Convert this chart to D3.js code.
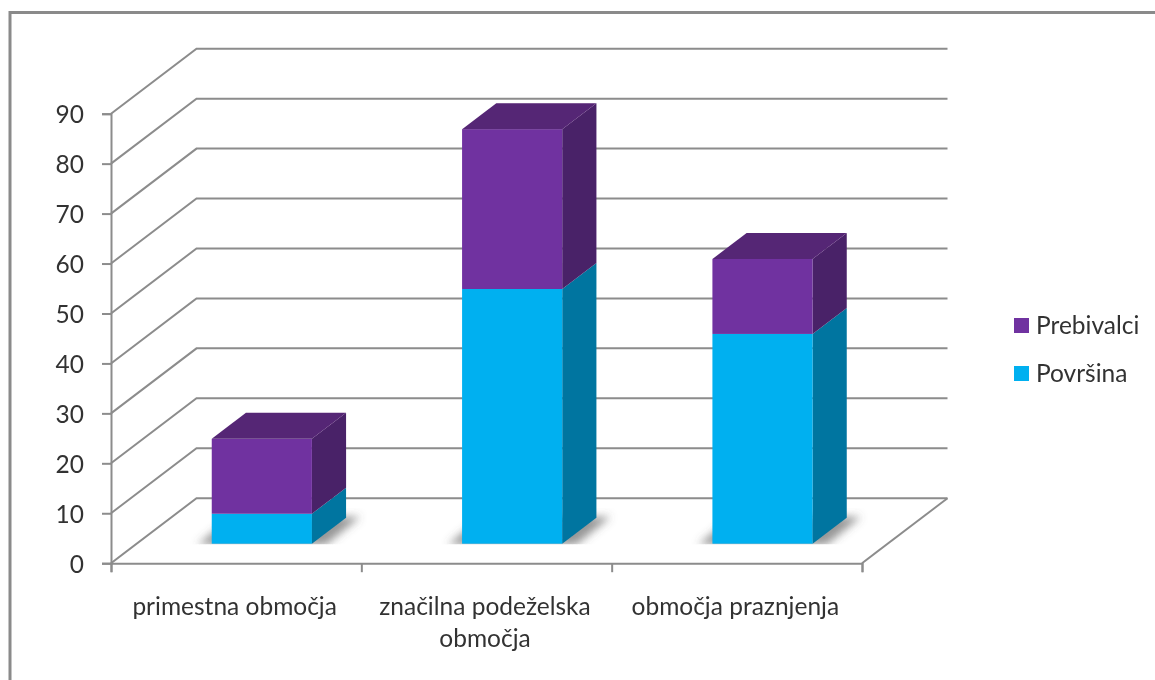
<!DOCTYPE html>
<html>
<head>
<meta charset="utf-8">
<script src="https://cdn.jsdelivr.net/npm/d3@7"></script>
<style>
  html, body { margin: 0; padding: 0; background: #fff; }
  svg { display: block; }
  text { font-family: Lato, "Open Sans", sans-serif; fill: #333; }
</style>
</head>
<body>
<div id="chart"></div>
<script>
const categories = ["primestna območja", "značilna podeželska območja", "območja praznjenja"];
const categoryLines = [["primestna območja"], ["značilna podeželska", "območja"], ["območja praznjenja"]];
const povrsina = [6, 51, 42];
const prebivalci = [15, 32, 15];
const seriesNames = ["Površina", "Prebivalci"];
const yTicks = [0, 10, 20, 30, 40, 50, 60, 70, 80, 90];

const colors = {
  Površina: { front: "#00b0f0", side: "#0075a0", top: "#0085b5" },
  Prebivalci: { front: "#7030a0", side: "#4a2068", top: "#552575" },
};

const width = 1155, height = 680;
const plot = { left: 111, right: 862, top: 113.7, bottom: 563.2 };
const wall = { dx: 85.5, dy: -65 }; // front plane -> back wall of the 3d box
const labelSize = "24.5px";

const svg = d3.select("#chart").append("svg").attr("width", width).attr("height", height);

const defs = svg.append("defs");
defs.append("filter").attr("id", "soft").append("feGaussianBlur").attr("stdDeviation", 0.45);
const shadowBlur = defs.append("filter").attr("id", "shadowBlur")
  .attr("x", "-20%").attr("y", "-30%").attr("width", "140%").attr("height", "160%");
shadowBlur.append("feGaussianBlur").attr("stdDeviation", 4);

// outer frame, runs off the right and bottom of the picture
svg.append("rect")
  .attr("x", 10).attr("y", 12.5)
  .attr("width", width + 20).attr("height", height + 20)
  .attr("fill", "#fff").attr("stroke", "#8a8a8a").attr("stroke-width", 3);

const g = svg.append("g").attr("filter", "url(#soft)");

const y = d3.scaleLinear().domain([0, 90]).range([plot.bottom, plot.top]);
const x = d3.scaleBand().domain(categories).range([plot.left, plot.right]).paddingInner(0.6).paddingOuter(0.3);
const xTicks = d3.scaleLinear().domain([0, 3]).range([plot.left, plot.right]);

// project a point of the front plane back by d (0 front, 1 back wall)
const project = (px, py, d) => [px + wall.dx * d, py + wall.dy * d];
const poly = (pts) => pts.map((p) => p.join(",")).join(" ");

// gridlines on side and back walls
g.selectAll("polyline.grid")
  .data(yTicks)
  .join("polyline")
  .attr("class", "grid")
  .attr("fill", "none")
  .attr("stroke", "#8c8c8c")
  .attr("stroke-width", 2)
  .attr("points", (d) => {
    const a = [plot.left, y(d)];
    const b = project(plot.left, y(d), 1);
    const c = project(plot.right, y(d), 1);
    return poly([a, b, c]);
  });

// floor right edge
g.append("line")
  .attr("x1", plot.right).attr("y1", y(0))
  .attr("x2", project(plot.right, y(0), 1)[0]).attr("y2", project(plot.right, y(0), 1)[1])
  .attr("stroke", "#8c8c8c").attr("stroke-width", 2);

// y axis
const yAxis = g.append("g")
  .attr("transform", `translate(${plot.left},0)`)
  .call(d3.axisLeft(y).tickValues(yTicks).tickSize(9).tickPadding(18));
yAxis.selectAll("path, line").attr("stroke", "#8c8c8c").attr("stroke-width", 2);
yAxis.selectAll("text").style("font-size", labelSize).attr("dy", "0.36em");

// x axis, ticks sit between the categories
const xAxis = g.append("g")
  .attr("transform", `translate(0,${plot.bottom})`)
  .call(d3.axisBottom(xTicks).tickValues([0, 1, 2, 3]).tickSize(9).tickFormat(""));
xAxis.selectAll("path, line").attr("stroke", "#8c8c8c").attr("stroke-width", 2);

g.selectAll("text.cat")
  .data(categoryLines)
  .join("text")
  .attr("class", "cat")
  .attr("text-anchor", "middle")
  .style("font-size", labelSize)
  .attr("y", 615)
  .each(function (lines, i) {
    d3.select(this).selectAll("tspan")
      .data(lines)
      .join("tspan")
      .attr("x", x(categories[i]) + x.bandwidth() / 2 - 1.5)
      .attr("dy", (d, k) => (k === 0 ? 0 : 32))
      .text((d) => d);
  });

// bars stand in the middle of the box depth
const barFront = 0.3, barBack = 0.7;

const rows = categories.map((c, i) => ({ category: c, Površina: povrsina[i], Prebivalci: prebivalci[i] }));
const stacked = d3.stack().keys(seriesNames)(rows);

const corner = (c, v, side, d) => project(x(c) + (side ? x.bandwidth() : 0), y(v), d);

// floor shadows, cut off along the front edge of the bars
defs.append("clipPath").attr("id", "floorClip")
  .append("rect")
  .attr("x", 0).attr("y", 0)
  .attr("width", width)
  .attr("height", project(0, y(0), barFront)[1] + 0.5);

g.append("g").attr("clip-path", "url(#floorClip)")
  .selectAll("polygon.shadow")
  .data(categories)
  .join("polygon")
  .attr("class", "shadow")
  .attr("fill", "#555")
  .attr("fill-opacity", 0.62)
  .attr("filter", "url(#shadowBlur)")
  .attr("points", (c) => {
    const s = x.bandwidth() * 0.14;
    const a = corner(c, 0, 0, barFront);
    const b = corner(c, 0, 1, barFront);
    const e = corner(c, 0, 1, barBack);
    const f = corner(c, 0, 0, barBack);
    return poly([[a[0] - s, a[1] + 1], [b[0] + s, b[1] + 1], [e[0] + s, e[1] - 1], [f[0] - s, f[1] - 1]]);
  });

stacked.forEach((layer, li) => {
  const col = colors[layer.key];
  const series = g.append("g").attr("class", "series");

  layer.forEach((seg, i) => {
    const c = categories[i];
    // side face
    series.append("polygon")
      .attr("fill", col.side)
      .attr("points", poly([
        corner(c, seg[0], 1, barFront),
        corner(c, seg[1], 1, barFront),
        corner(c, seg[1], 1, barBack),
        corner(c, seg[0], 1, barBack),
      ]));
    // front face
    series.append("rect")
      .attr("fill", col.front)
      .attr("x", corner(c, seg[1], 0, barFront)[0])
      .attr("y", corner(c, seg[1], 0, barFront)[1])
      .attr("width", x.bandwidth())
      .attr("height", y(seg[0]) - y(seg[1]));
    // only the last series shows a top
    if (li === stacked.length - 1) {
      series.append("polygon")
        .attr("fill", col.top)
        .attr("points", poly([
          corner(c, seg[1], 0, barFront),
          corner(c, seg[1], 1, barFront),
          corner(c, seg[1], 1, barBack),
          corner(c, seg[1], 0, barBack),
        ]));
    }
  });
});

// legend
const legendY = d3.scalePoint().domain(["Prebivalci", "Površina"]).range([325.5, 373.5]);
const legend = g.selectAll("g.legend")
  .data(legendY.domain())
  .join("g")
  .attr("class", "legend")
  .attr("transform", (d) => `translate(1014,${legendY(d)})`);
legend.append("rect")
  .attr("y", -7.5).attr("width", 15).attr("height", 15)
  .attr("fill", (d) => colors[d].front);
legend.append("text")
  .attr("x", 22).attr("y", 8)
  .style("font-size", labelSize)
  .text((d) => d);
</script>
</body>
</html>
